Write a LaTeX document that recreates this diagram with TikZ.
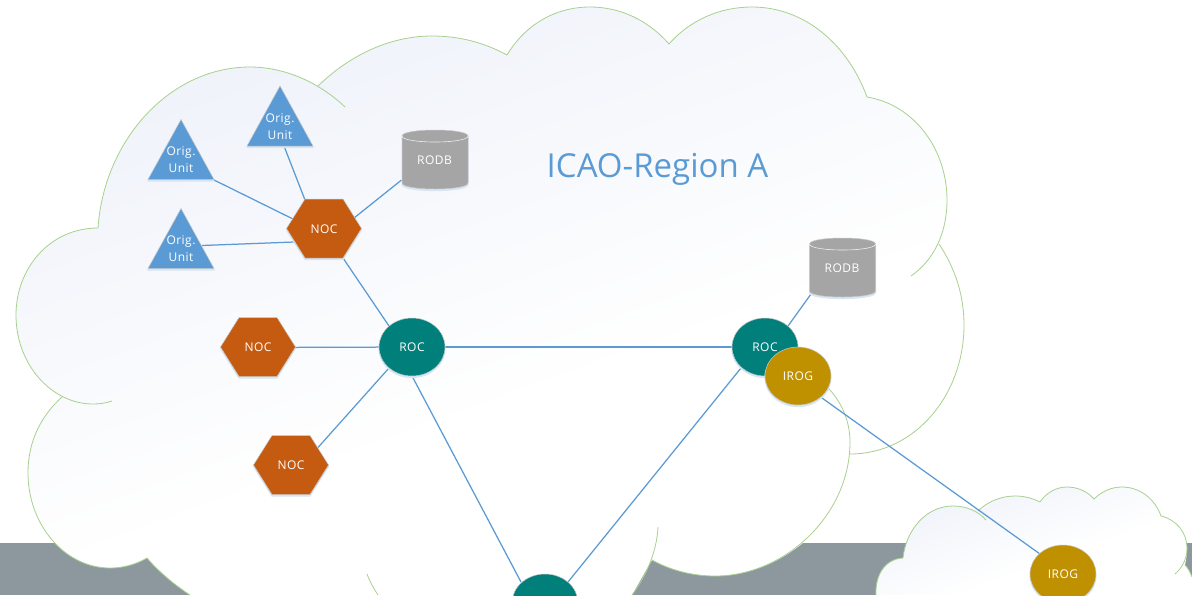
\documentclass[tikz,border=0pt]{standalone}
\usepackage{fontspec}
\setmainfont{Open Sans}
\newfontfamily\labelfont[LetterSpace=4]{Open Sans}
\usetikzlibrary{shapes.geometric,calc}
\definecolor{linkblue}{HTML}{5B9BD5}
\definecolor{cloudline}{HTML}{A9D18E}
\definecolor{cloudtop}{HTML}{F0F3FA}
\definecolor{band}{HTML}{8C989E}
\definecolor{nocfill}{HTML}{C55A11}
\definecolor{rocfill}{HTML}{017F7B}
\definecolor{irogfill}{HTML}{BF9000}
\definecolor{dbfill}{HTML}{A5A5A5}
\definecolor{rim}{HTML}{C8C8C8}
\definecolor{glow}{HTML}{D6E6F5}
\pgfdeclareverticalshading{cloudshade}{100bp}{color(0bp)=(white);color(42bp)=(white);color(72bp)=(cloudtop);color(100bp)=(cloudtop)}
\pgfdeclarelayer{clouds}
\pgfdeclarelayer{links}
\pgfsetlayers{clouds,links,main}
\tikzset{
  x=1pt,y=-1pt,
  softshadow/.style={preaction={draw=glow,line width=1pt,fill=glow,transform canvas={yshift=-1.6pt}}},
  shapeskin/.style={softshadow,draw=rim,line width=.5pt},
  tag/.style={text=white,font=\labelfont\fontsize{12}{17}\selectfont,align=center,inner sep=0pt},
  round/.style={ellipse,minimum width=66pt,minimum height=58pt,inner sep=0pt,shapeskin,tag},
  rocnode/.style={round,fill=rocfill},
  irognode/.style={round,fill=irogfill},
  link/.style={draw=linkblue,line width=1.25pt},
  cloudfill/.style={shading=cloudshade,shading angle=20},
  cloudedge/.style={draw=cloudline,line width=.8pt},
}
\newcommand{\hexnode}[3]{%
  \path[shapeskin,fill=nocfill,shift={(#2)}] (-37.5,0)--(-19,-29.5)--(19,-29.5)--(37.5,0)--(19,29.5)--(-19,29.5)--cycle;
  \node[tag] (#1) at ($(#2)+(0,0.5)$) {#3};}
\newcommand{\trinode}[3]{%
  \path[shapeskin,fill=linkblue,shift={(#2)}] (0,-60)--(33,0)--(-33,0)--cycle;
  \node[tag] (#1) at ($(#2)+(0,-19.5)$) {#3};
  \coordinate (#1base) at (#2);}
\newcommand{\dbnode}[3]{%
  \path[shapeskin,fill=dbfill,shift={(#2)}] (-33,-24) .. controls (-33,-32) and (33,-32) .. (33,-24) -- (33,23)
     .. controls (33,31) and (-33,31) .. (-33,23) -- cycle;
  \draw[white!80!dbfill,line width=.6pt,shift={(#2)}] (-33,-24) .. controls (-33,-16) and (33,-16) .. (33,-24);
  \node[tag] (#1) at ($(#2)+(-0.5,0)$) {#3};}
\begin{document}
\begin{tikzpicture}
\useasboundingbox (0,0) rectangle (1192,595);
\begin{pgfonlayer}{clouds}
  \fill[white] (0,0) rectangle (1192,595);
  \fill[band] (0,543) rectangle (1192,595);
  % large cloud
  \path[cloudfill] (98,228) .. controls (104,140) and (170,67) .. (250,67)
    .. controls (275,67) and (298,74) .. (318,86)
    .. controls (350,55) and (390,36) .. (432,36) .. controls (460,36) and (485,43) .. (507,55)
    .. controls (525,25) and (555,7) .. (590,7) .. controls (620,7) and (648,20) .. (669,44)
    .. controls (690,20) and (720,7) .. (752,7) .. controls (805,7) and (848,45) .. (867,97)
    .. controls (915,105) and (947,150) .. (947,200) .. controls (947,215) and (944,230) .. (939,244)
    .. controls (955,268) and (964,295) .. (964,325) .. controls (964,395) and (915,454) .. (850,454)
    .. controls (850,515) and (785,576) .. (715,576) .. controls (692,576) and (670,570) .. (652,560)
    -- (632,595) -- (190,595)
    .. controls (175,585) and (160,573) .. (147,558)
    .. controls (135,565) and (122,568) .. (110,568) .. controls (65,568) and (28,525) .. (28,473)
    .. controls (28,440) and (42,415) .. (62,397)
    .. controls (35,380) and (16,350) .. (16,315) .. controls (16,268) and (50,228) .. (98,228) -- cycle;
  \draw[cloudedge] (98,228) .. controls (104,140) and (170,67) .. (250,67) .. controls (285,67) and (320,83) .. (345,107);
  \draw[cloudedge] (318,86) .. controls (350,55) and (390,36) .. (432,36) .. controls (460,36) and (485,43) .. (507,55);
  \draw[cloudedge] (507,55) .. controls (525,25) and (555,7) .. (590,7) .. controls (620,7) and (648,20) .. (669,44);
  \draw[cloudedge] (669,44) .. controls (690,20) and (720,7) .. (752,7) .. controls (805,7) and (848,45) .. (867,97);
  \draw[cloudedge] (867,97) .. controls (915,105) and (947,150) .. (947,200) .. controls (947,233) and (934,260) .. (911,276);
  \draw[cloudedge] (939,244) .. controls (955,268) and (964,295) .. (964,325) .. controls (964,395) and (915,454) .. (850,454);
  \draw[cloudedge] (828,388) .. controls (842,402) and (850,422) .. (850,442) .. controls (850,515) and (785,576) .. (715,576) .. controls (692,576) and (670,570) .. (652,560);
  \draw[cloudedge] (658,527) .. controls (657,550) and (647,575) .. (632,595);
  \draw[cloudedge] (367,574) .. controls (370,582) and (374,589) .. (378,595);
  \draw[cloudedge] (190,595) .. controls (175,585) and (160,573) .. (147,558);
  \draw[cloudedge] (147,558) .. controls (135,565) and (122,568) .. (110,568) .. controls (65,568) and (28,525) .. (28,473) .. controls (28,440) and (42,415) .. (62,397);
  \draw[cloudedge] (112,401) .. controls (106,403) and (100,404) .. (93,404) .. controls (52,404) and (16,365) .. (16,315) .. controls (16,268) and (50,228) .. (98,228);
  % small cloud
  \path[cloudfill] (876,595) .. controls (875,575) and (885,559) .. (903,558)
    .. controls (906,530) and (926,506) .. (953,506) .. controls (962,506) and (971,508) .. (978,511)
    .. controls (988,501) and (1002,496) .. (1015,496) .. controls (1024,496) and (1032,498) .. (1040,502)
    .. controls (1046,493) and (1056,487) .. (1067,487) .. controls (1077,487) and (1087,491) .. (1094,499)
    .. controls (1102,491) and (1112,487) .. (1122,487) .. controls (1140,487) and (1155,499) .. (1161,516)
    .. controls (1177,520) and (1187,533) .. (1187,548) .. controls (1187,555) and (1186,560) .. (1185,565)
    .. controls (1188,568) and (1190,572) .. (1192,577) -- (1192,595) -- cycle;
  \draw[cloudedge] (876,595) .. controls (875,575) and (885,559) .. (903,558);
  \draw[cloudedge] (903,558) .. controls (906,530) and (926,506) .. (953,506) .. controls (966,506) and (978,511) .. (986,520);
  \draw[cloudedge] (978,511) .. controls (988,501) and (1002,496) .. (1015,496) .. controls (1024,496) and (1032,498) .. (1040,502);
  \draw[cloudedge] (1040,502) .. controls (1046,493) and (1056,487) .. (1067,487) .. controls (1077,487) and (1087,491) .. (1094,499);
  \draw[cloudedge] (1094,499) .. controls (1102,491) and (1112,487) .. (1122,487) .. controls (1140,487) and (1155,499) .. (1161,516);
  \draw[cloudedge] (1161,516) .. controls (1177,520) and (1187,533) .. (1187,548) .. controls (1187,558) and (1183,567) .. (1175,574);
  \draw[cloudedge] (1185,565) .. controls (1188,568) and (1190,572) .. (1192,577);
\end{pgfonlayer}
% nodes
\node[text=linkblue,font=\fontsize{33}{40}\selectfont,inner sep=0pt] (title) at (657.5,169.5) {ICAO-Region A};
\trinode{origA}{280,146}{Orig.\\Unit}
\trinode{origB}{181,179.5}{Orig.\\Unit}
\trinode{origC}{181,268.5}{Orig.\\Unit}
\dbnode{dbA}{435,160}{RODB}
\dbnode{dbB}{842.5,268}{RODB}
\hexnode{nocA}{324,228.5}{NOC}
\hexnode{nocB}{258,347}{NOC}
\hexnode{nocC}{291,465}{NOC}
\node[rocnode] (rocA) at (412,347) {ROC};
\node[rocnode] (rocB) at (765,347) {ROC};
\node[rocnode] (rocC) at (545,603) {};
\node[irognode] (irogA) at (798,376) {IROG};
\node[irognode] (irogB) at (1063,574) {IROG};
% connectors
\begin{pgfonlayer}{links}
  \draw[link] ([shift={(4,0)}]origAbase) -- ([shift={(-19,-29)}]nocA.center);
  \draw[link] ([shift={(32,0)}]origBbase) -- ([shift={(-31,-10)}]nocA.center);
  \draw[link] ([shift={(21,-23)}]origCbase) -- ([shift={(-30,13)}]nocA.center);
  \draw[link] ([shift={(-33,20)}]dbA.center) -- ([shift={(30,-11)}]nocA.center);
  \draw[link] ([shift={(19,29)}]nocA.center) -- ([shift={(-23,-21)}]rocA.center);
  \draw[link] (nocB.center) -- (rocA.center);
  \draw[link] ([shift={(27,-18)}]nocC.center) -- ([shift={(-23,21)}]rocA.center);
  \draw[link] (rocA.center) -- (rocB.center);
  \draw[link] ([shift={(0,29)}]rocA.center) -- ([shift={(-24,-21)}]rocC.center);
  \draw[link] ([shift={(-24,21)}]rocB.center) -- ([shift={(23,-21)}]rocC.center);
  \draw[link] ([shift={(-31,26)}]dbB.center) -- ([shift={(23,-21)}]rocB.center);
  \draw[link] ([shift={(24,22)}]irogA.center) -- ([shift={(-23,-20)}]irogB.center);
\end{pgfonlayer}
\end{tikzpicture}
\end{document}
